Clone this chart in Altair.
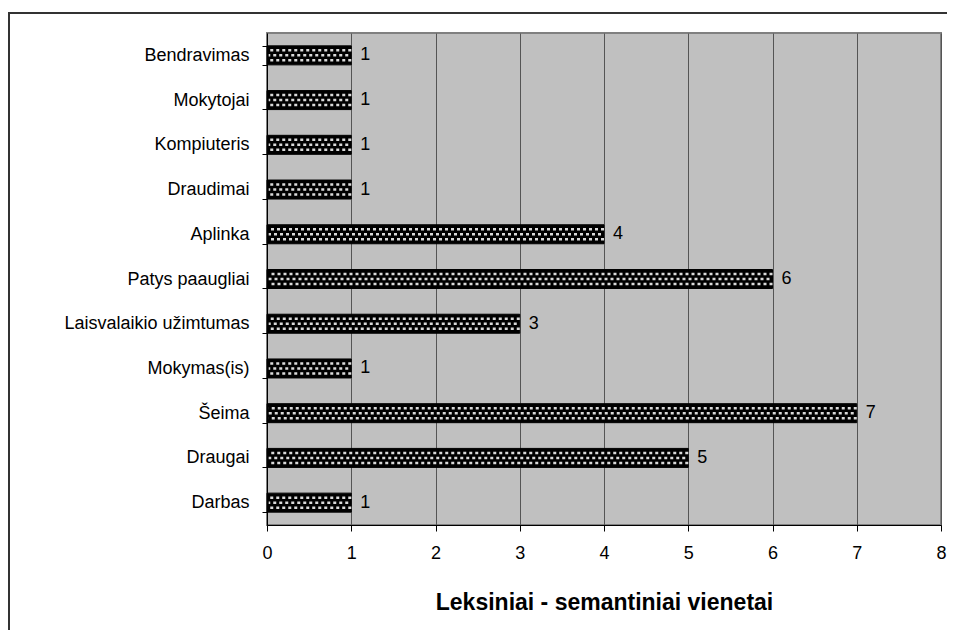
import altair as alt
import pandas as pd

categories = ["Bendravimas", "Mokytojai", "Kompiuteris", "Draudimai", "Aplinka",
              "Patys paaugliai", "Laisvalaikio užimtumas", "Mokymas(is)", "Šeima",
              "Draugai", "Darbas"]
values = [1, 1, 1, 1, 4, 6, 3, 1, 7, 5, 1]
x_ticks = [0, 1, 2, 3, 4, 5, 6, 7, 8]
x_title = "Leksiniai - semantiniai vienetai"

df = pd.DataFrame({"cat": categories, "val": values})

FONT = "Liberation Sans"

y_scale = alt.Scale(paddingInner=0.58, paddingOuter=0.29)
x_scale = alt.Scale(domain=[0, 8], nice=False)

y_axis = alt.Axis(tickBand="extent", labelFont=FONT, labelFontSize=18,
                  labelColor="black", domainColor="black", tickColor="black",
                  tickSize=5, labelPadding=13, grid=False, labelLimit=400, title=None)
x_axis = alt.Axis(values=x_ticks, format="d", labelFont=FONT, labelFontSize=18,
                  labelColor="black", domainColor="black", tickColor="black",
                  tickSize=6, labelPadding=13, grid=True, gridColor="#555555",
                  gridWidth=1, labelFlush=False, titleFont=FONT, titleFontSize=23,
                  titleFontWeight="bold", titleColor="black", titlePadding=29,
                  title=x_title)

y_enc = alt.Y("cat:N", sort=categories, scale=y_scale, axis=y_axis)
x_enc = alt.X("val:Q", scale=x_scale, axis=x_axis)

base = alt.Chart(df)

border = base.mark_rect(fill=None, stroke="#333333", strokeWidth=2, clip=False).encode(
    x=alt.value(-258), x2=alt.value(720), y=alt.value(-20), y2=alt.value(640)
)

bars = base.mark_bar(color="black", stroke="black", strokeWidth=1, height=19).encode(
    y=y_enc, x=x_enc
)

dots = []
for off, dash_off in [(-5, 0), (0, 3), (5, 0)]:
    dots.append(
        base.mark_rule(color="white", strokeWidth=2.5, yOffset=off,
                       strokeDash=[3, 3], strokeDashOffset=dash_off, opacity=0.85).encode(
            y=y_enc,
            x=x_enc,
            x2=alt.datum(0.02),
        )
    )

labels = base.mark_text(align="left", baseline="middle", dx=9, font=FONT,
                        fontSize=18, color="black").encode(
    y=y_enc, x=x_enc, text="val:Q"
)

chart = alt.layer(bars, *dots, labels, border).properties(
    width=674, height=492,
    autosize=alt.AutoSizeParams(type="none"),
    padding={"left": 259, "top": 25, "right": 6, "bottom": 105},
).configure(background="white"
).configure_view(fill="#C0C0C0", stroke="#808080", strokeWidth=2)

chart.save("out.html", embed_options={"renderer": "svg", "actions": False})
